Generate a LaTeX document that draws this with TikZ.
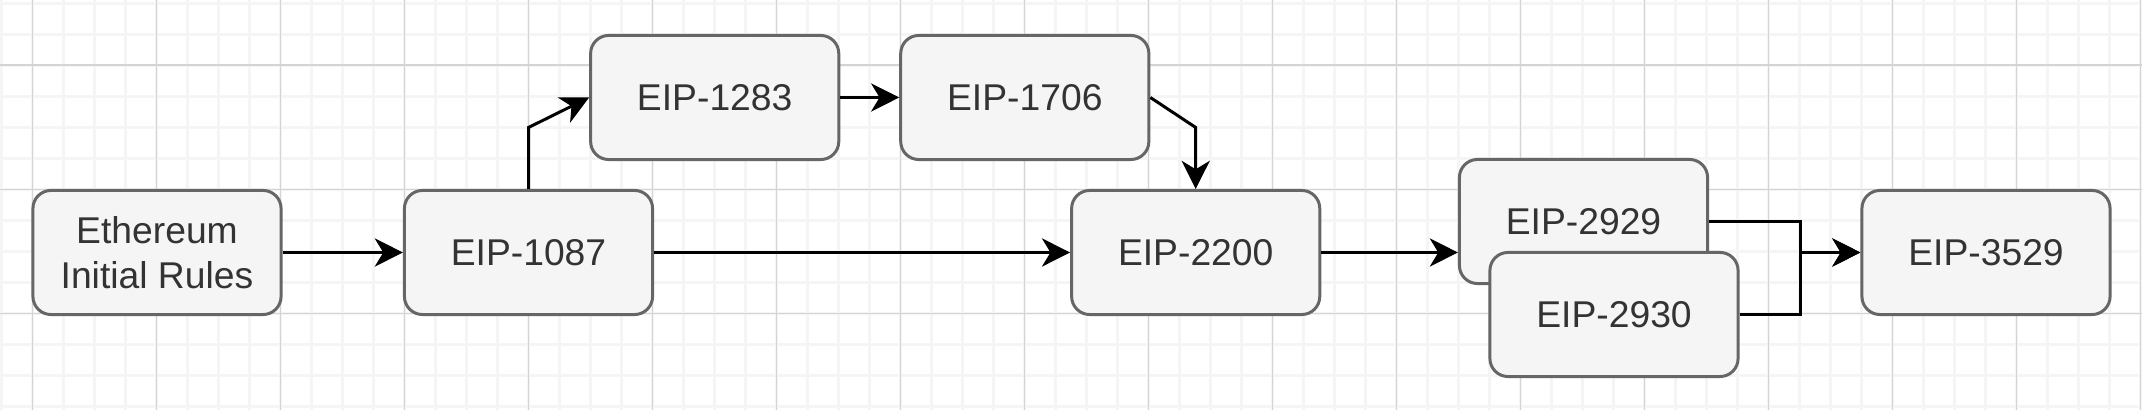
\documentclass[tikz,border=0pt]{standalone}
\usepackage{fontspec}
\setmainfont{Liberation Sans}
\usetikzlibrary{arrows.meta}
\definecolor{boxfill}{HTML}{F5F5F5}
\definecolor{boxline}{HTML}{666666}
\definecolor{txt}{HTML}{333333}
\definecolor{gridminor}{HTML}{F5F5F5}
\definecolor{gridmajor}{HTML}{D4D4D4}
\begin{document}
\begin{tikzpicture}[x=0.01cm,y=-0.01cm,
  eipbox/.style={draw=boxline, fill=boxfill, line width=0.85pt, rounded corners=0.18cm,
    minimum width=2.48cm, minimum height=1.24cm, inner sep=0pt, align=center,
    text=txt, font=\fontsize{10.6pt}{12.8pt}\selectfont},
  link/.style={draw=black, line width=0.85pt, -{Stealth[length=8pt,width=8pt,inset=2.4pt]}},
  minorline/.style={draw=gridminor, line width=0.8pt},
  majorline/.style={draw=gridmajor, line width=0.45pt}]
\useasboundingbox[fill=white] (0,0) rectangle (2142,410);
% grid
\foreach \k in {0,...,69} {
  \pgfmathsetmacro\xx{1.3+31*\k}
  \draw[minorline] (\xx,0) -- (\xx,410);
}
\foreach \k in {0,...,13} {
  \pgfmathsetmacro\yy{3.3+31*\k}
  \draw[minorline] (0,\yy) -- (2142,\yy);
}
\foreach \k in {0,...,17} {
  \pgfmathsetmacro\xx{32.3+124*\k}
  \draw[majorline] (\xx,0) -- (\xx,410);
}
\foreach \yy in {65.3,189.3,313.3} {
  \draw[majorline] (0,\yy) -- (2142,\yy);
}
% nodes
\node[eipbox] (eth)   at (157,252.5)    {Ethereum\\Initial Rules};
\node[eipbox] (e1087) at (528.5,252.5)  {EIP-1087};
\node[eipbox] (e1283) at (714.7,97.5)   {EIP-1283};
\node[eipbox] (e1706) at (1024.8,97.5)  {EIP-1706};
\node[eipbox] (e2200) at (1195.7,252.5) {EIP-2200};
\node[eipbox] (e2929) at (1583.5,221.5) {EIP-2929};
\node[eipbox] (e2930) at (1614,314.5)   {EIP-2930};
\node[eipbox] (e3529) at (1986,252.5)   {EIP-3529};
% bend points
\coordinate (b1) at (528.5,127.5);
\coordinate (b2) at (1195.7,127.5);
\coordinate (m)  at (1800,252.5);
% connectors
\draw[link] (eth) -- (e1087);
\draw[link] (e1087) -- (e2200);
\draw[link] (e1087.north) -- (b1) -- (e1283.west);
\draw[link] (e1283) -- (e1706);
\draw[link] (e1706.east) -- (b2) -- (e2200.north);
\draw[link] (e2200.east) -- (e2200.east -| e2929.west);
\draw[link] (e2929.east) -| (m) -- (e3529.west);
\draw[link] (e2930.east) -| (m) -- (e3529.west);
\end{tikzpicture}
\end{document}
